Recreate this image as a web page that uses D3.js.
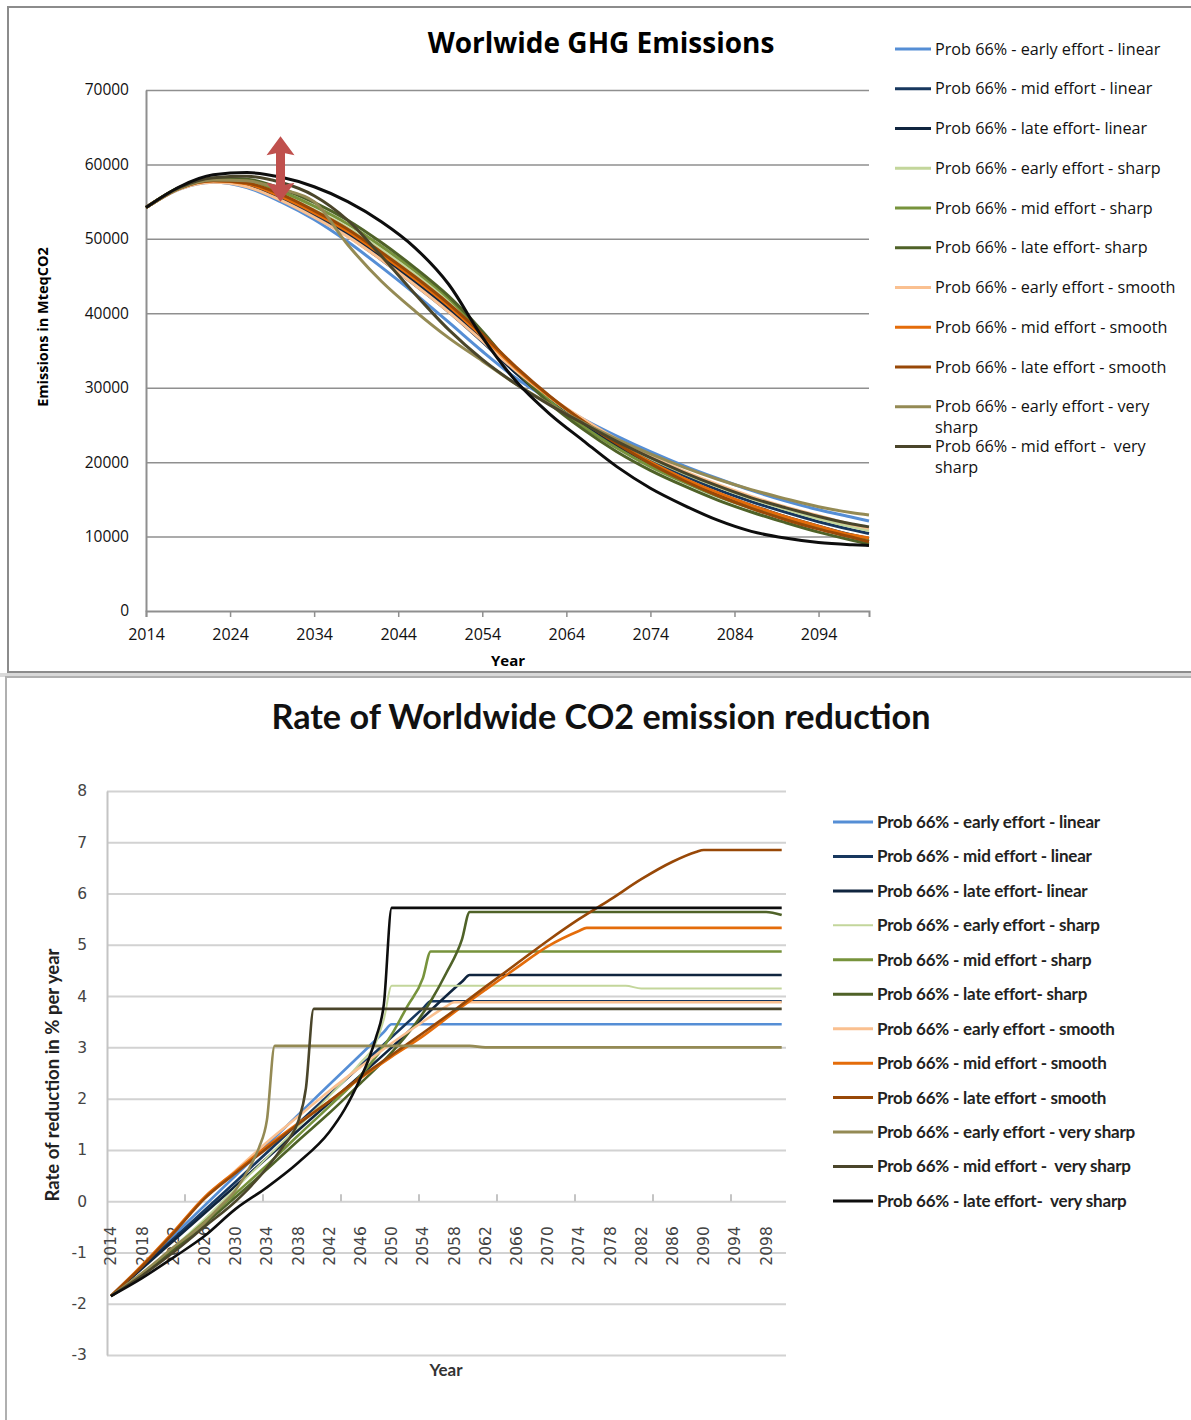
<!DOCTYPE html>
<html><head><meta charset="utf-8">
<script src="https://cdn.jsdelivr.net/npm/d3@7"></script>
<style>body{margin:0;background:#fff}text{white-space:pre}</style>
</head><body>
<svg id="c" width="1191" height="1420"></svg>
<script>
// ---------------- DATA ----------------
const seriesNames = [
  "Prob 66% - early effort - linear",
  "Prob 66% - mid effort - linear",
  "Prob 66% - late effort- linear",
  "Prob 66% - early effort - sharp",
  "Prob 66% - mid effort - sharp",
  "Prob 66% - late effort- sharp",
  "Prob 66% - early effort - smooth",
  "Prob 66% - mid effort - smooth",
  "Prob 66% - late effort - smooth",
  "Prob 66% - early effort - very sharp",
  "Prob 66% - mid effort -  very sharp",
  "Prob 66% - late effort-  very sharp"
];
const seriesColors = ["#558ED5","#17375E","#10253F","#C3D69B","#77933C","#4F6228","#FAC090","#E46C0A","#984807","#948A54","#4A452A","#0D0D0D"];

// Chart 1: worldwide GHG emissions (MteqCO2)
const ghgYears = [2014,2018,2022,2026,2030,2034,2038,2042,2046,2050,2054,2058,2062,2066,2070,2074,2078,2082,2086,2090,2094,2098,2100];
const ghgEarlyLinear    = [54200,56700,57600,56900,55000,52600,49600,46200,42600,38800,34900,31300,28400,25800,23500,21400,19500,17800,16200,14800,13600,12600,12100];
const ghgMidLinear      = [54200,56800,57700,57100,55300,53000,50400,47200,43800,40200,36200,32000,28400,25400,22700,20300,18200,16300,14700,13300,12000,10900,10400];
const ghgLateLinear     = [54200,56800,57800,57300,55600,53400,50800,47600,44200,40600,36400,32000,28200,25000,22200,19800,17700,15800,14200,12700,11400,10200,9700];
const ghgEarlySharp     = [54200,56800,57900,57600,56000,53900,51500,48500,45200,41600,37200,32600,28700,25500,22800,20500,18500,16700,15100,13700,12400,11300,10800];
const ghgMidSharp       = [54200,56900,58000,57800,56400,54400,52000,49000,45700,42000,37400,32400,28200,24800,21900,19400,17300,15400,13800,12400,11100,9900,9400];
const ghgLateSharp      = [54200,56900,58100,58000,56800,54900,52500,49500,46100,42300,37600,32300,27900,24400,21400,18900,16800,14900,13300,11900,10600,9500,9000];
const ghgEarlySmooth    = [54200,56700,57600,57000,55200,52900,50300,47200,43800,40200,36300,32300,28800,25800,23100,20800,18800,17000,15400,14000,12800,11600,11100];
const ghgMidSmooth      = [54200,56800,57800,57400,55700,53500,51000,47900,44600,41000,36900,32600,28800,25500,22600,20000,17800,15900,14200,12700,11400,10200,9800];
const ghgLateSmooth     = [54200,56800,57800,57500,56000,53800,51300,48200,44900,41300,37200,32800,28900,25500,22500,19800,17500,15500,13800,12300,11000,9900,9300];
const ghgEarlyVerySharp = [54200,56800,57900,57800,56700,55000,49200,44300,40300,36700,33600,30500,27800,25300,23100,21100,19300,17700,16300,15100,14000,13200,12900];
const ghgMidVerySharp   = [54200,56900,58200,58400,57600,55800,52500,47700,42600,37800,33800,30500,27700,25200,22800,20600,18600,16800,15200,13900,12700,11700,11300];
const ghgLateVerySharp  = [54200,57000,58600,58900,58300,57000,55000,52300,48800,43900,36800,30900,26500,22900,19400,16500,14200,12200,10700,9800,9200,8900,8800];
const ghgSeries = [ghgEarlyLinear,ghgMidLinear,ghgLateLinear,ghgEarlySharp,ghgMidSharp,ghgLateSharp,ghgEarlySmooth,ghgMidSmooth,ghgLateSmooth,ghgEarlyVerySharp,ghgMidVerySharp,ghgLateVerySharp];
const ghgYTicks = [0,10000,20000,30000,40000,50000,60000,70000];
const ghgXTicks = [2014,2024,2034,2044,2054,2064,2074,2084,2094];
const ghgLegendCount = 11; // last entry is cut off in the original legend
const arrowYear = 2030, arrowTop = 63800, arrowBottom = 55000;

// Chart 2: rate of worldwide CO2 emission reduction (% per year), [year, value]
const rateEarlyLinear    = [[2014,-1.85],[2030,0.5],[2040,1.98],[2049,3.3],[2050,3.45],[2100,3.45]];
const rateMidLinear      = [[2014,-1.85],[2030,0.38],[2040,1.8],[2050,3.2],[2054,3.76],[2055,3.9],[2100,3.9]];
const rateLateLinear     = [[2014,-1.85],[2030,0.3],[2040,1.65],[2050,3.0],[2059,4.28],[2060,4.41],[2100,4.41]];
const rateEarlySharp     = [[2014,-1.85],[2018,-1.4],[2022,-0.9],[2026,-0.35],[2030,0.25],[2034,0.85],[2038,1.45],[2042,2.05],[2046,2.7],[2048,3.1],[2049,3.55],[2050,4.2],[2080,4.2],[2082,4.15],[2100,4.15]];
const rateMidSharp       = [[2014,-1.85],[2018,-1.42],[2022,-0.92],[2026,-0.4],[2030,0.15],[2034,0.7],[2038,1.28],[2042,1.85],[2046,2.45],[2050,3.25],[2052,3.8],[2054,4.35],[2055,4.87],[2100,4.87]];
const rateLateSharp      = [[2014,-1.85],[2018,-1.45],[2022,-0.95],[2026,-0.45],[2030,0.08],[2034,0.62],[2038,1.18],[2042,1.72],[2046,2.3],[2050,2.9],[2053,3.45],[2055,3.9],[2057,4.45],[2059,5.1],[2060,5.64],[2098,5.64],[2100,5.58]];
const rateEarlySmooth    = [[2014,-1.85],[2018,-1.25],[2022,-0.62],[2026,0.05],[2030,0.6],[2034,1.15],[2038,1.65],[2042,2.15],[2046,2.62],[2050,3.08],[2054,3.5],[2057,3.8],[2058,3.88],[2100,3.88]];
const rateMidSmooth      = [[2014,-1.85],[2018,-1.25],[2022,-0.6],[2026,0.08],[2030,0.58],[2034,1.07],[2038,1.52],[2042,1.95],[2046,2.4],[2050,2.82],[2054,3.22],[2058,3.68],[2062,4.12],[2066,4.55],[2070,4.97],[2074,5.27],[2075,5.33],[2100,5.33]];
const rateLateSmooth     = [[2014,-1.85],[2018,-1.27],[2022,-0.63],[2026,0.05],[2030,0.55],[2034,1.03],[2038,1.5],[2042,1.95],[2046,2.42],[2050,2.85],[2054,3.28],[2058,3.72],[2062,4.18],[2066,4.63],[2070,5.08],[2074,5.5],[2078,5.88],[2082,6.28],[2086,6.62],[2089,6.81],[2090,6.85],[2100,6.85]];
const rateEarlyVerySharp = [[2014,-1.85],[2018,-1.4],[2022,-0.9],[2026,-0.42],[2028,-0.1],[2030,0.22],[2031,0.45],[2032,0.72],[2033,1.05],[2034,1.58],[2035,3.03],[2060,3.03],[2062,3.0],[2100,3.0]];
const rateMidVerySharp   = [[2014,-1.85],[2018,-1.45],[2022,-1.0],[2026,-0.5],[2030,0.0],[2032,0.3],[2034,0.65],[2036,1.05],[2037,1.25],[2038,1.55],[2039,2.2],[2040,3.75],[2100,3.75]];
const rateLateVerySharp  = [[2014,-1.85],[2018,-1.5],[2022,-1.1],[2026,-0.68],[2030,-0.15],[2034,0.27],[2038,0.75],[2042,1.35],[2044,1.8],[2046,2.4],[2047,2.75],[2048,3.2],[2049,3.85],[2050,5.72],[2100,5.72]];
const rateSeries = [rateEarlyLinear,rateMidLinear,rateLateLinear,rateEarlySharp,rateMidSharp,rateLateSharp,rateEarlySmooth,rateMidSmooth,rateLateSmooth,rateEarlyVerySharp,rateMidVerySharp,rateLateVerySharp];
const rateFirstYear = 2014, rateLastYear = 2100;
const rateYTicks = [-3,-2,-1,0,1,2,3,4,5,6,7,8];
const rateLabelStep = 4, rateTickStep = 10;

// ---------------- DRAW ----------------
const svg = d3.select("#c");

// panel frames
svg.append("rect").attr("x",8).attr("y",7).attr("width",1200).attr("height",665)
  .attr("fill","none").attr("stroke","#8c8c8c").attr("stroke-width",2);
svg.append("rect").attr("x",0).attr("y",673).attr("width",1191).attr("height",4).attr("fill","#d9d9d9");
svg.append("rect").attr("x",6).attr("y",677).attr("width",1200).attr("height",760)
  .attr("fill","none").attr("stroke","#b0b0b0").attr("stroke-width",2);

// ===== Chart 1 =====
const F1 = "'Open Sans', sans-serif";
const x1 = d3.scaleLinear().domain([2014,2100]).range([146,869]);
const y1 = d3.scaleLinear().domain([0,70000]).range([611,90]);
const g1 = svg.append("g");

g1.append("text").attr("x",601).attr("y",53).attr("text-anchor","middle")
  .attr("font-family",F1).attr("font-weight",700).attr("font-size",28).text("Worlwide GHG Emissions");

// gridlines
g1.append("g").attr("transform","translate(146,0)")
  .call(d3.axisLeft(y1).tickValues(ghgYTicks.filter(d=>d>0)).tickSize(-723).tickFormat(""))
  .call(g=>g.select(".domain").remove())
  .call(g=>g.selectAll("line").attr("stroke","#8f8f8f").attr("stroke-width",1.5));
// y axis
g1.append("g").attr("transform","translate(146,0)")
  .call(d3.axisLeft(y1).tickValues(ghgYTicks).tickSize(0).tickPadding(17).tickFormat(d=>String(d)))
  .call(g=>g.select(".domain").attr("stroke","#8f8f8f").attr("stroke-width",2))
  .call(g=>g.selectAll("text").attr("font-family",F1).attr("font-size",15.5).attr("fill","#111"));
// x axis
g1.append("g").attr("transform","translate(0,611)")
  .call(d3.axisBottom(x1).tickValues(ghgXTicks).tickSize(6).tickPadding(12).tickFormat(d=>String(d)))
  .call(g=>g.select(".domain").attr("stroke","#8f8f8f").attr("stroke-width",2))
  .call(g=>g.selectAll("line").attr("stroke","#8f8f8f").attr("stroke-width",1.5))
  .call(g=>g.selectAll("text").attr("font-family",F1).attr("font-size",16).attr("fill","#111"));

g1.append("text").attr("x",508).attr("y",666).attr("text-anchor","middle")
  .attr("font-family",F1).attr("font-weight",700).attr("font-size",15).text("Year");
g1.append("text").attr("transform","translate(48,327) rotate(-90)").attr("text-anchor","middle")
  .attr("font-family",F1).attr("font-weight",700).attr("font-size",14.5).text("Emissions in MteqCO2");

const line1 = d3.line().x((d,i)=>x1(ghgYears[i])).y(d=>y1(d)).curve(d3.curveMonotoneX);
ghgSeries.forEach((s,i)=>{
  g1.append("path").attr("d",line1(s)).attr("fill","none")
    .attr("stroke",seriesColors[i]).attr("stroke-width",3).attr("stroke-linejoin","round");
});

// red double arrow annotation
{
  const ax = x1(arrowYear), yt = y1(arrowTop), yb = y1(arrowBottom);
  const hw = 14, hh = 19, sw = 4.5;
  const p = [[ax,yt],[ax+hw,yt+hh],[ax+sw,yt+hh-2],[ax+sw,yb-hh+2],[ax+hw,yb-hh],[ax,yb],[ax-hw,yb-hh],[ax-sw,yb-hh+2],[ax-sw,yt+hh-2],[ax-hw,yt+hh]];
  g1.append("path").attr("d","M"+p.map(q=>q.join(",")).join("L")+"Z").attr("fill","#C0504D");
}

// legend 1
const lg1 = g1.append("g");
seriesNames.slice(0,ghgLegendCount).forEach((name,i)=>{
  const yy = 49 + i*39.75;
  lg1.append("line").attr("x1",895).attr("x2",931).attr("y1",yy).attr("y2",yy)
    .attr("stroke",seriesColors[i]).attr("stroke-width",3);
  const t = lg1.append("text").attr("x",935).attr("y",yy).attr("dy","0.35em")
    .attr("font-family",F1).attr("font-size",16.2).attr("fill","#111");
  const words = name.split(" ");
  let cur = t.append("tspan").attr("x",935).text(words[0]);
  let line = words[0];
  for (let k=1;k<words.length;k++){
    const trial = line + " " + words[k];
    cur.text(trial);
    if (cur.node().getComputedTextLength() > 250 && words[k] !== "") {
      cur.text(line.replace(/\s+$/,""));
      cur = t.append("tspan").attr("x",935).attr("dy",20.5).text(words[k]);
      line = words[k];
    } else line = trial;
  }
});

// ===== Chart 2 =====
const F2 = "Lato, 'Open Sans', sans-serif";
const F2t = "'DejaVu Sans', sans-serif";
const years2 = d3.range(rateFirstYear, rateLastYear+1);
const x2 = d3.scaleBand().domain(years2).range([107,785.6]);
const xc = yr => x2(yr) + x2.bandwidth()/2;
const y2 = d3.scaleLinear().domain([-3,8]).range([1355,791]);
const g2 = svg.append("g");

g2.append("text").attr("x",601).attr("y",729).attr("text-anchor","middle")
  .attr("font-family",F2).attr("font-weight",700).attr("font-size",34.2).attr("fill","#111")
  .text("Rate of Worldwide CO2 emission reduction");

// gridlines
g2.append("g").attr("transform","translate(107,0)")
  .call(d3.axisLeft(y2).tickValues(rateYTicks).tickSize(-679).tickFormat(""))
  .call(g=>g.select(".domain").remove())
  .call(g=>g.selectAll("line").attr("stroke","#d2d2d2").attr("stroke-width",2));
// y axis
g2.append("g").attr("transform","translate(107,0)")
  .call(d3.axisLeft(y2).tickValues(rateYTicks).tickSize(0).tickPadding(20).tickFormat(d=>String(d)))
  .call(g=>g.select(".domain").attr("stroke","#c4c4c4").attr("stroke-width",2))
  .call(g=>g.selectAll("text").attr("font-family",F2t).attr("font-size",15.5).attr("fill","#444"));
// x tick marks (every 10 categories, pointing up from 0)
const tickYears = years2.filter((d,i)=>i>0 && i%rateTickStep===0 && i<years2.length-1);
g2.append("g").selectAll("line").data(tickYears).join("line")
  .attr("x1",d=>x2(d)).attr("x2",d=>x2(d)).attr("y1",y2(0)).attr("y2",y2(0)-7)
  .attr("stroke","#c4c4c4").attr("stroke-width",2);
// x labels rotated
const labelYears = years2.filter((d,i)=>i%rateLabelStep===0 && i<years2.length-1);
g2.append("g").selectAll("text").data(labelYears).join("text")
  .attr("transform",d=>`translate(${xc(d)},${y2(0)+25}) rotate(-90)`)
  .attr("text-anchor","end").attr("dy","0.36em")
  .attr("font-family",F2t).attr("font-size",15.5).attr("fill","#444").text(d=>d);

g2.append("text").attr("x",446).attr("y",1376).attr("text-anchor","middle")
  .attr("font-family",F2).attr("font-weight",700).attr("font-size",17).attr("fill","#333").text("Year");
g2.append("text").attr("transform","translate(59,1075) rotate(-90)").attr("text-anchor","middle")
  .attr("font-family",F2).attr("font-weight",700).attr("font-size",18.5).attr("fill","#222")
  .text("Rate of reduction in % per year");

const line2 = d3.line().x(d=>xc(d[0])).y(d=>y2(d[1])).curve(d3.curveMonotoneX);
rateSeries.forEach((s,i)=>{
  g2.append("path").attr("d",line2(s)).attr("fill","none")
    .attr("stroke",seriesColors[i]).attr("stroke-width",i===3?2:2.6).attr("stroke-linejoin","round");
});

// legend 2
const lg2 = g2.append("g");
seriesNames.forEach((name,i)=>{
  const yy = 822 + i*34.45;
  lg2.append("line").attr("x1",833).attr("x2",873).attr("y1",yy).attr("y2",yy)
    .attr("stroke",seriesColors[i]).attr("stroke-width",i===3?2:3);
  lg2.append("text").attr("x",877).attr("y",yy).attr("dy","0.35em")
    .attr("font-family",F2).attr("font-weight",700).attr("font-size",17).attr("fill","#222")
    .attr("letter-spacing",-0.2).text(name);
});
</script>
</body></html>
